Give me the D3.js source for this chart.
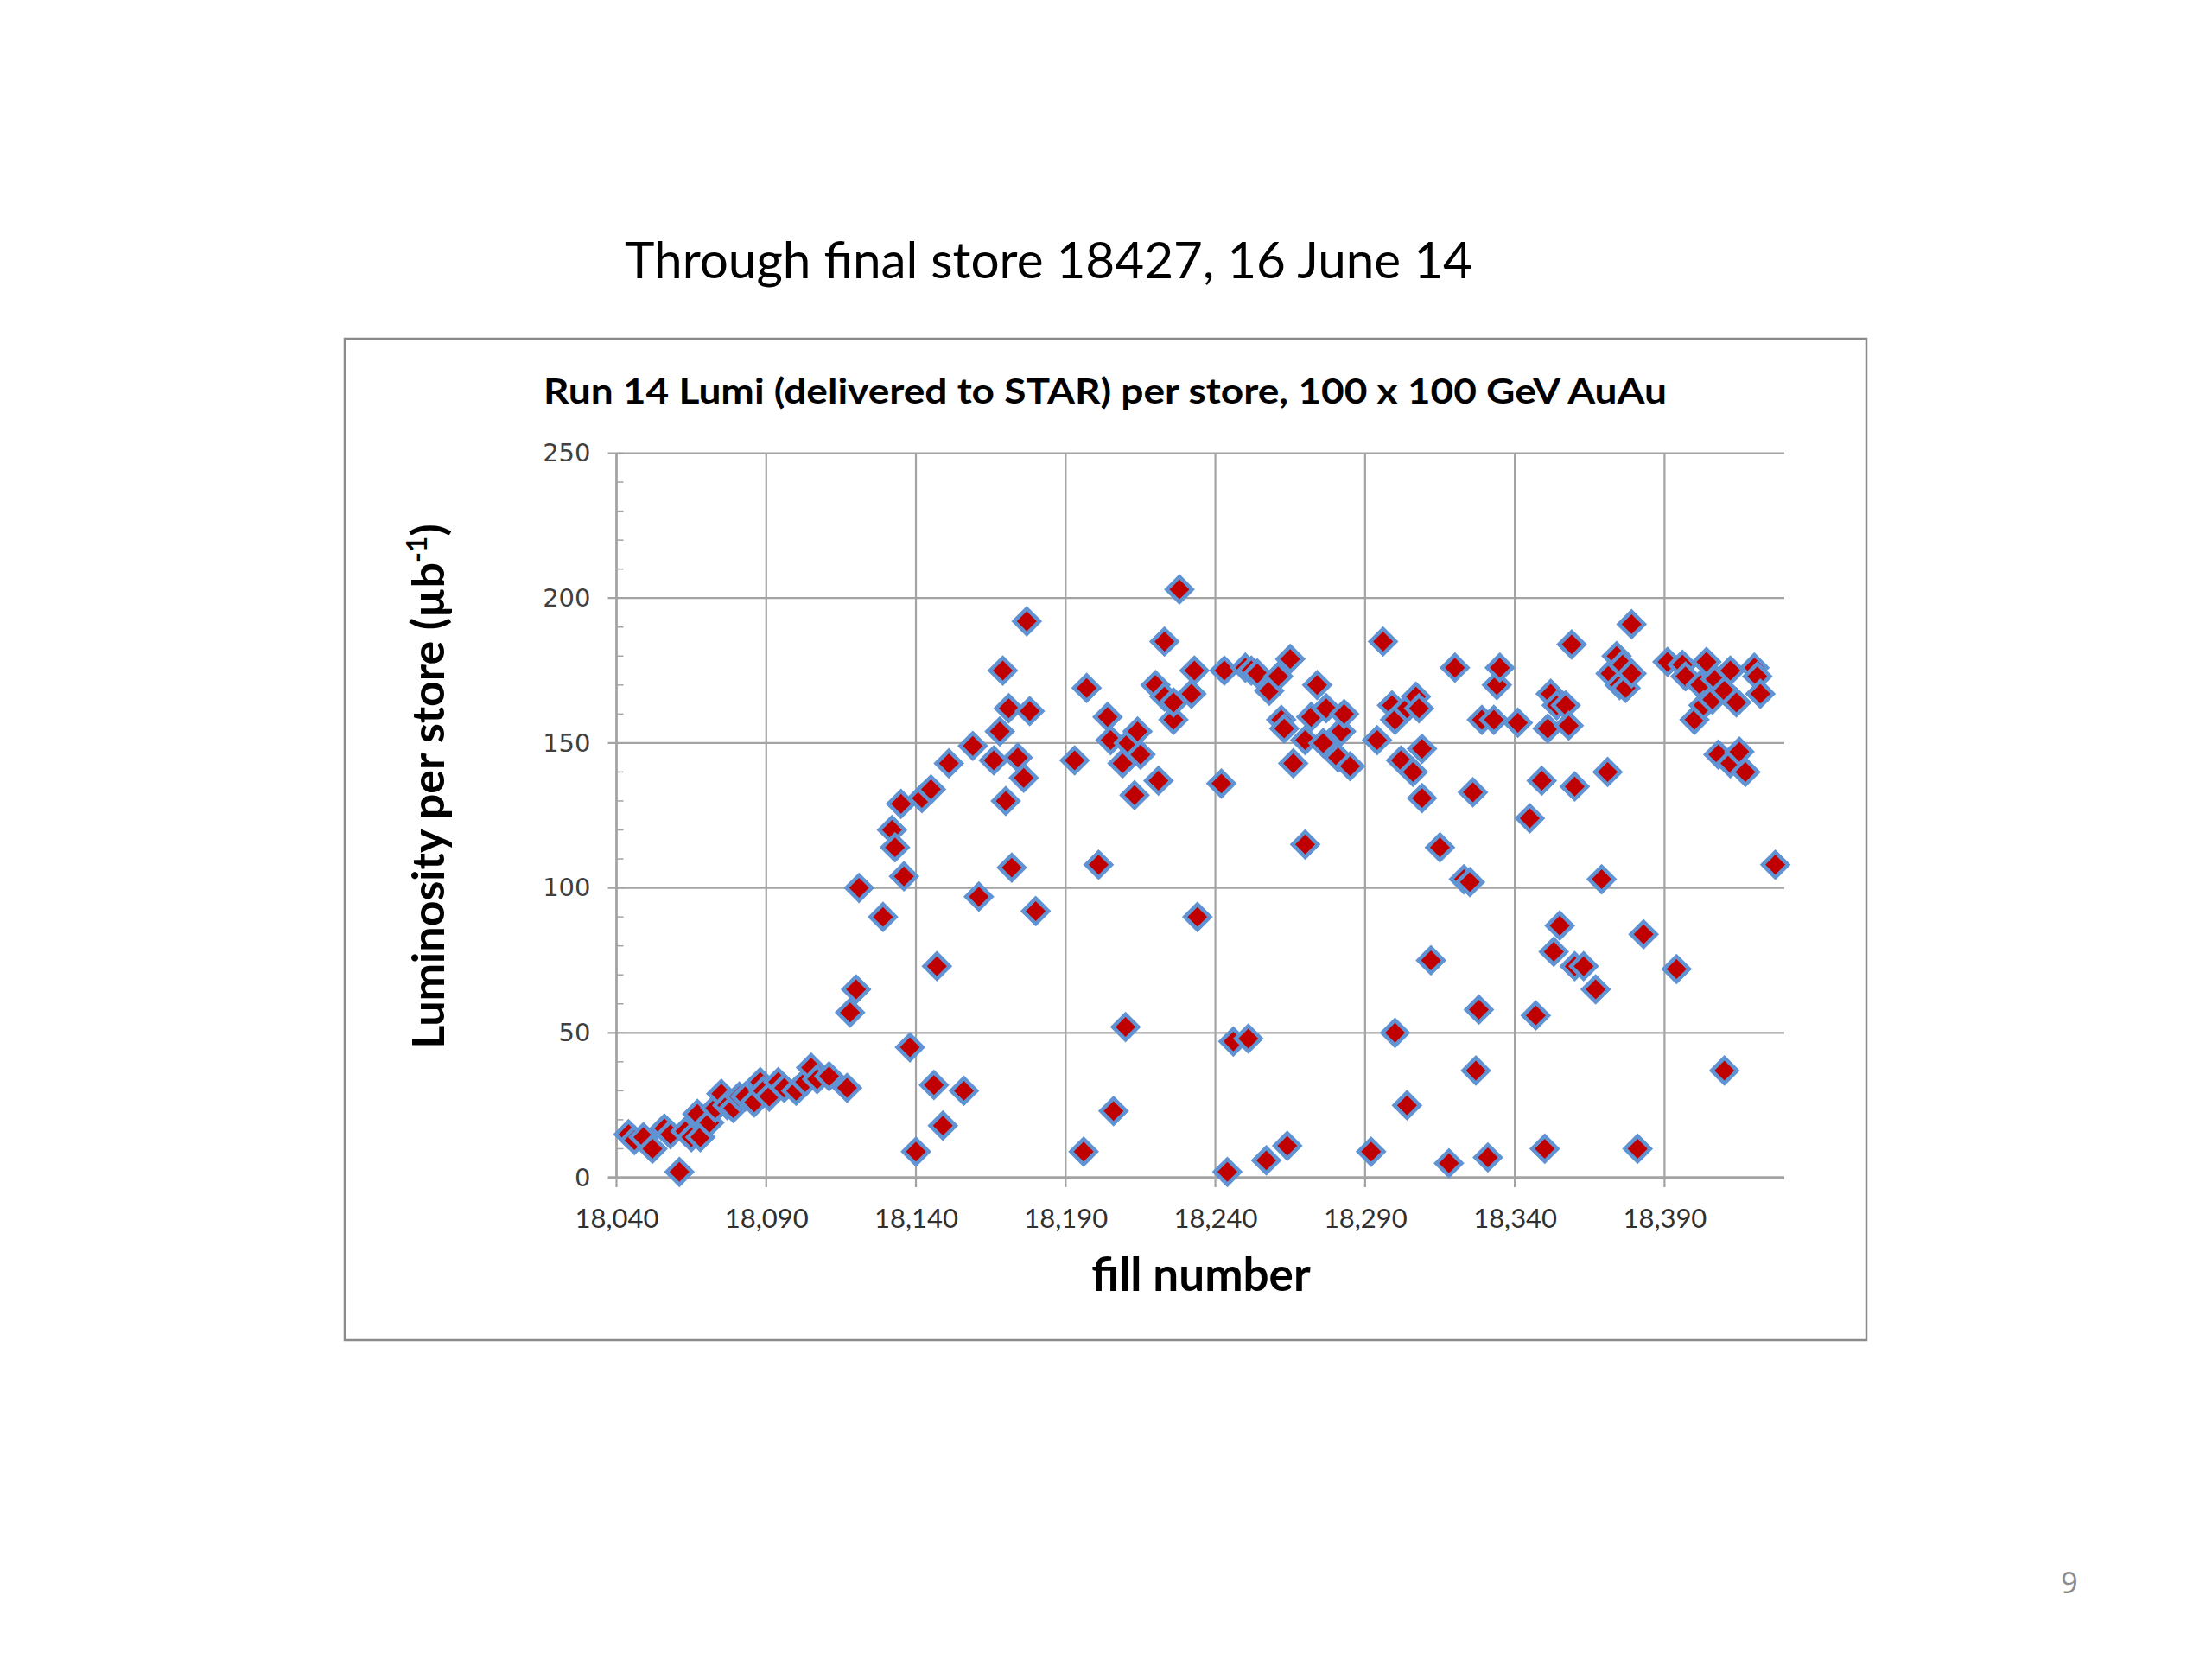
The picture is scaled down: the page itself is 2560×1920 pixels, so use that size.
<!DOCTYPE html>
<html>
<head>
<meta charset="utf-8">
<script src="https://cdn.jsdelivr.net/npm/d3@7"></script>
<style>
  html, body { margin: 0; padding: 0; background: #ffffff; }
  svg { display: block; }
</style>
</head>
<body>
<svg id="chart" width="2560" height="1920"></svg>
<script>
// ---------------- DATA ----------------
const slideTitle = "Through final store 18427, 16 June 14";
const chartTitle = "Run 14 Lumi (delivered to STAR) per store, 100 x 100 GeV AuAu";
const xAxisTitle = "fill number";
const yAxisTitleMain = "Luminosity per store (\u00b5b";
const yAxisTitleSup = "-1";
const pageNumber = "9";

const xTicks = [18040, 18090, 18140, 18190, 18240, 18290, 18340, 18390];
const yTicks = [0, 50, 100, 150, 200, 250];

const fills = [
  18044, 18046, 18049, 18052, 18056, 18058, 18061, 18063, 18065, 18067,
  18068, 18071, 18073, 18075, 18077, 18079, 18081, 18083, 18086, 18088,
  18089, 18091, 18094, 18096, 18100, 18103, 18105, 18107, 18111, 18117,
  18118, 18120, 18121, 18129, 18132, 18133, 18135, 18136, 18138, 18140,
  18142, 18145, 18146, 18147, 18149, 18151, 18156, 18159, 18161, 18166,
  18168, 18169, 18170, 18171, 18172, 18174, 18176, 18177, 18178, 18180,
  18193, 18196, 18197, 18201, 18204, 18205, 18206, 18209, 18210, 18211,
  18213, 18214, 18215, 18220, 18221, 18223, 18223, 18226, 18226, 18228,
  18232, 18233, 18234, 18242, 18243, 18244, 18246, 18250, 18251, 18252,
  18254, 18257, 18258, 18261, 18262, 18263, 18264, 18265, 18266, 18270,
  18270, 18272, 18274, 18276, 18277, 18281, 18282, 18283, 18285, 18292,
  18294, 18296, 18299, 18300, 18300, 18302, 18304, 18304, 18306, 18307,
  18308, 18309, 18309, 18312, 18315, 18318, 18320, 18323, 18325, 18326,
  18327, 18328, 18329, 18331, 18333, 18334, 18335, 18341, 18345, 18347,
  18349, 18350, 18351, 18352, 18353, 18354, 18355, 18357, 18358, 18359,
  18360, 18360, 18363, 18367, 18369, 18371, 18372, 18374, 18375, 18376,
  18377, 18379, 18379, 18381, 18383, 18391, 18394, 18396, 18397, 18400,
  18402, 18403, 18404, 18406, 18407, 18408, 18410, 18410, 18412, 18412,
  18414, 18415, 18417, 18420, 18421, 18422, 18427
];

const lumi = [
  15, 13, 14, 10, 17, 15, 2, 16, 14, 22,
  14, 19, 24, 29, 25, 24, 28, 28, 26, 33,
  30, 28, 33, 31, 30, 33, 38, 34, 35, 31,
  57, 65, 100, 90, 120, 114, 129, 104, 45, 9,
  131, 134, 32, 73, 18, 143, 30, 149, 97, 144,
  154, 175, 130, 162, 107, 145, 138, 192, 161, 92,
  144, 9, 169, 108, 159, 151, 23, 143, 52, 150,
  132, 154, 146, 170, 137, 166, 185, 158, 164, 203,
  167, 175, 90, 136, 175, 2, 47, 176, 48, 175,
  174, 6, 168, 173, 158, 155, 11, 179, 143, 115,
  151, 159, 170, 150, 162, 145, 154, 160, 142, 9,
  151, 185, 163, 50, 158, 144, 162, 25, 140, 166,
  162, 131, 148, 75, 114, 5, 176, 103, 102, 133,
  37, 58, 158, 7, 158, 170, 176, 157, 124, 56,
  137, 10, 155, 167, 78, 163, 87, 163, 156, 184,
  135, 73, 73, 65, 103, 140, 174, 180, 170, 177,
  169, 174, 191, 10, 84, 178, 72, 177, 173, 158,
  170, 163, 178, 165, 172, 146, 37, 168, 175, 143,
  164, 147, 140, 176, 173, 167, 108
];

// ---------------- LAYOUT ----------------
const svg = d3.select("#chart");
const plot = { left: 713.5, right: 2065, top: 524.5, bottom: 1363 };

const x = d3.scaleLinear().domain([18040, 18430]).range([plot.left, plot.right]);
const y = d3.scaleLinear().domain([0, 250]).range([plot.bottom, plot.top]);

const gridColor = "#a3a3a3";

// slide title
svg.append("text")
  .attr("x", 723).attr("y", 322)
  .attr("font-family", "Lato, 'Open Sans', sans-serif")
  .attr("font-size", 58)
  .attr("fill", "#000")
  .attr("textLength", 981).attr("lengthAdjust", "spacingAndGlyphs")
  .text(slideTitle);

// chart frame
svg.append("rect")
  .attr("x", 399).attr("y", 392)
  .attr("width", 2160 - 399).attr("height", 1551 - 392)
  .attr("fill", "#fff")
  .attr("stroke", "#8a8a8a").attr("stroke-width", 2.5);

// chart title
svg.append("text")
  .attr("x", 629).attr("y", 467)
  .attr("font-family", "Lato, 'Open Sans', sans-serif")
  .attr("font-weight", "bold")
  .attr("font-size", 41)
  .attr("fill", "#000")
  .attr("textLength", 1300).attr("lengthAdjust", "spacingAndGlyphs")
  .text(chartTitle);

// horizontal gridlines
svg.append("g").selectAll("line.hg")
  .data(yTicks.filter(d => d > 0))
  .join("line")
  .attr("x1", plot.left - 10).attr("x2", plot.right)
  .attr("y1", d => y(d)).attr("y2", d => y(d))
  .attr("stroke", gridColor).attr("stroke-width", 2.2);

// vertical gridlines (extend below axis as ticks)
svg.append("g").selectAll("line.vg")
  .data(xTicks)
  .join("line")
  .attr("x1", d => x(d)).attr("x2", d => x(d))
  .attr("y1", plot.top).attr("y2", plot.bottom + 11)
  .attr("stroke", gridColor).attr("stroke-width", 2.2);

// minor y ticks (inside)
svg.append("g").selectAll("line.mt")
  .data(d3.range(0, 251, 10))
  .join("line")
  .attr("x1", plot.left).attr("x2", plot.left + 8)
  .attr("y1", d => y(d)).attr("y2", d => y(d))
  .attr("stroke", gridColor).attr("stroke-width", 1.5);

// y axis line
svg.append("line")
  .attr("x1", plot.left).attr("x2", plot.left)
  .attr("y1", plot.top).attr("y2", plot.bottom)
  .attr("stroke", gridColor).attr("stroke-width", 2.5);

// x axis line (zero)
svg.append("line")
  .attr("x1", plot.left - 10).attr("x2", plot.right)
  .attr("y1", plot.bottom).attr("y2", plot.bottom)
  .attr("stroke", gridColor).attr("stroke-width", 3.5);

// x axis labels
const xAxis = svg.append("g")
  .attr("transform", `translate(0,${plot.bottom})`)
  .call(d3.axisBottom(x).tickValues(xTicks).tickFormat(d3.format(",")).tickSize(0).tickPadding(36));
xAxis.select(".domain").remove();
xAxis.selectAll("text")
  .attr("font-family", "Lato, 'Open Sans', sans-serif")
  .attr("font-size", 31)
  .attr("fill", "#303030");

// y axis labels
const yAxis = svg.append("g")
  .attr("transform", `translate(${plot.left},0)`)
  .call(d3.axisLeft(y).tickValues(yTicks).tickSize(0).tickPadding(30));
yAxis.select(".domain").remove();
yAxis.selectAll("text")
  .attr("font-family", "'DejaVu Sans', Verdana, sans-serif")
  .attr("font-size", 29)
  .attr("fill", "#404040");

// markers
const diamond = d3.symbol().type(d3.symbolSquare).size(430);
const pts = fills.map((f, i) => ({ f: f, v: lumi[i] }));
svg.append("g").selectAll("path.pt")
  .data(pts)
  .join("path")
  .attr("d", diamond)
  .attr("transform", d => `translate(${x(d.f)},${y(d.v)}) rotate(45)`)
  .attr("fill", "#c00000")
  .attr("stroke", "#5f93d3")
  .attr("stroke-width", 4.5)
  .attr("stroke-linejoin", "miter");

// x axis title
svg.append("text")
  .attr("x", 1390).attr("y", 1494)
  .attr("text-anchor", "middle")
  .attr("font-family", "Lato, 'Open Sans', sans-serif")
  .attr("font-weight", "bold")
  .attr("font-size", 53)
  .attr("fill", "#000")
  .text(xAxisTitle);

// y axis title
const yt = svg.append("text")
  .attr("transform", "translate(514,910) rotate(-90)")
  .attr("text-anchor", "middle")
  .attr("font-family", "Lato, 'Open Sans', sans-serif")
  .attr("font-weight", "bold")
  .attr("font-size", 52)
  .attr("fill", "#000");
yt.append("tspan").text(yAxisTitleMain);
yt.append("tspan").attr("font-size", 32).attr("dy", -20).text(yAxisTitleSup);
yt.append("tspan").attr("dy", 20).text(")");

// page number
svg.append("text")
  .attr("x", 2395).attr("y", 1844)
  .attr("text-anchor", "middle")
  .attr("font-family", "'Open Sans', sans-serif")
  .attr("font-size", 34)
  .attr("fill", "#8c8c8c")
  .text(pageNumber);
</script>
</body>
</html>
